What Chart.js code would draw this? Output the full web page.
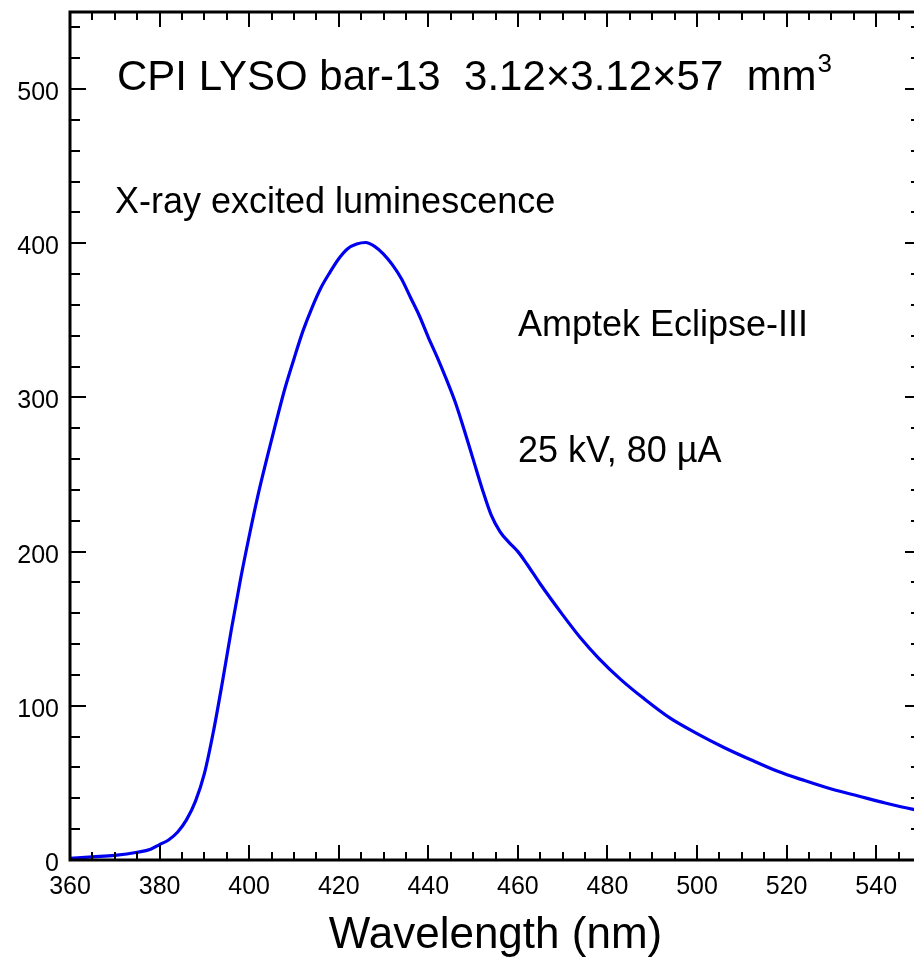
<!DOCTYPE html>
<html>
<head>
<meta charset="utf-8">
<script src="https://cdn.jsdelivr.net/npm/chart.js@4.4.0/dist/chart.umd.min.js"></script>
<style>
  html, body { margin: 0; padding: 0; overflow: hidden; background: #fff; }
  #wrap { width: 921px; height: 961px; position: relative; }
</style>
</head>
<body>
<div id="wrap"><canvas id="mycanvas"></canvas></div>
<script>
// wavelength (nm) and X-ray excited luminescence intensity
var wavelength = [360, 365, 370, 375, 378, 380, 382, 384, 386, 388, 390, 392, 394, 396, 398,
  400, 402, 404, 406, 408, 410, 412, 414, 416, 418, 420, 422, 424, 426, 428,
  430, 432, 434, 436, 438, 440, 442, 444, 446, 448, 450, 452, 454, 456, 458,
  460, 462, 465, 470, 474, 478, 483, 488, 494, 500, 506, 512, 518, 524, 530,
  536, 542, 548, 550];
var intensity = [1, 2, 3, 5, 7, 10, 13, 18, 26, 38, 56, 83, 115, 149, 181,
  210, 237, 261, 284, 306, 325, 343, 358, 371, 381, 390, 396.5, 399.5, 400.5, 398,
  393, 386, 377, 365, 353, 339, 326, 312, 297, 279, 260, 241, 224, 213, 206,
  200, 192, 179, 159, 144, 131, 117, 105, 92, 82, 73, 65, 57.5, 51.5, 46,
  41.5, 37, 33, 32];

var xTicks = [360, 380, 400, 420, 440, 460, 480, 500, 520, 540];
var yTicks = [0, 100, 200, 300, 400, 500];

var FONT = "'Liberation Sans', Arial, sans-serif";

var points = [];
for (var i in wavelength) {
  points.push({x: wavelength[i], y: intensity[i]});
}

// frame with inward ticks on all four sides
var frame = {
  id: 'frame',
  afterDatasetsDraw: function(chart) {
    var ctx = chart.ctx, a = chart.chartArea;
    var xs = chart.scales.x, ys = chart.scales.y;
    ctx.save();
    ctx.strokeStyle = '#000';
    ctx.lineWidth = 2;
    ctx.beginPath();
    for (var v = 360; v <= 550; v += 5) {
      var px = Math.round(xs.getPixelForValue(v));
      var L = (v % 20 === 0) ? 15 : 8;
      ctx.moveTo(px, a.bottom); ctx.lineTo(px, a.bottom - L);
      ctx.moveTo(px, a.top); ctx.lineTo(px, a.top + L);
    }
    for (var w = 0; w <= 550; w += 20) {
      var py = Math.round(ys.getPixelForValue(w));
      var M = (w % 100 === 0) ? 16 : 10;
      ctx.moveTo(a.left, py); ctx.lineTo(a.left + M, py);
      ctx.moveTo(a.right, py); ctx.lineTo(a.right - M, py);
    }
    ctx.stroke();
    ctx.lineWidth = 3;
    ctx.strokeRect(a.left, a.top, a.right - a.left, a.bottom - a.top);
    ctx.restore();
  }
};

// text annotations inside the plot
var notes = {
  id: 'notes',
  afterDraw: function(chart) {
    var ctx = chart.ctx;
    ctx.save();
    ctx.fillStyle = '#000';
    ctx.textBaseline = 'alphabetic';
    ctx.textAlign = 'left';
    ctx.font = '42px ' + FONT;
    var t = 'CPI LYSO bar-13  3.12\u00d73.12\u00d757  mm';
    ctx.fillText(t, 117, 90);
    var tw = ctx.measureText(t).width;
    ctx.font = '26px ' + FONT;
    ctx.fillText('3', 117 + tw + 1, 72);
    ctx.font = '36px ' + FONT;
    ctx.fillText('X-ray excited luminescence', 115, 213);
    ctx.fillText('Amptek Eclipse-III', 518, 336);
    ctx.fillText('25 kV, 80 \u00b5A', 518, 462);
    ctx.restore();
  }
};

var chartdata = {
  datasets: [
    {
      label: 'XEL',
      data: points,
      borderColor: 'rgb(0, 0, 240)',
      borderWidth: 3.2,
      pointRadius: 0,
      tension: 0.4,
      cubicInterpolationMode: 'monotone',
      fill: false
    }
  ]
};

var ctx = document.getElementById('mycanvas');

var lineGraph = new Chart(ctx, {
  type: 'line',
  data: chartdata,
  options: {
    responsive: true,
    maintainAspectRatio: false,
    animation: false,
    layout: { padding: { top: 12, left: 0, right: 0, bottom: 0 } },
    plugins: { legend: { display: false }, tooltip: { enabled: false } },
    scales: {
      x: {
        type: 'linear',
        min: 360,
        max: 550,
        grid: { display: false },
        border: { display: false },
        afterBuildTicks: function(scale) {
          scale.ticks = xTicks.map(function(v) { return {value: v}; });
        },
        afterFit: function(scale) {
          scale.height = 101;
          scale.paddingLeft = 0;
          scale.paddingRight = 0;
        },
        ticks: {
          autoSkip: false,
          maxRotation: 0,
          padding: 4,
          color: '#000',
          font: { family: FONT, size: 25 }
        },
        title: {
          display: true,
          text: 'Wavelength (nm)',
          color: '#000',
          font: { family: FONT, size: 44, lineHeight: 1 },
          padding: { top: 0, bottom: 3 }
        }
      },
      y: {
        min: 0,
        max: 550,
        grid: { display: false },
        border: { display: false },
        afterBuildTicks: function(scale) {
          scale.ticks = yTicks.map(function(v) { return {value: v}; });
        },
        afterFit: function(scale) {
          scale.width = 70;
          scale.paddingTop = 0;
          scale.paddingBottom = 0;
        },
        ticks: {
          padding: 3,
          labelOffset: 4,
          color: '#000',
          font: { family: FONT, size: 25 }
        }
      }
    }
  },
  plugins: [frame, notes]
});
</script>
</body>
</html>
